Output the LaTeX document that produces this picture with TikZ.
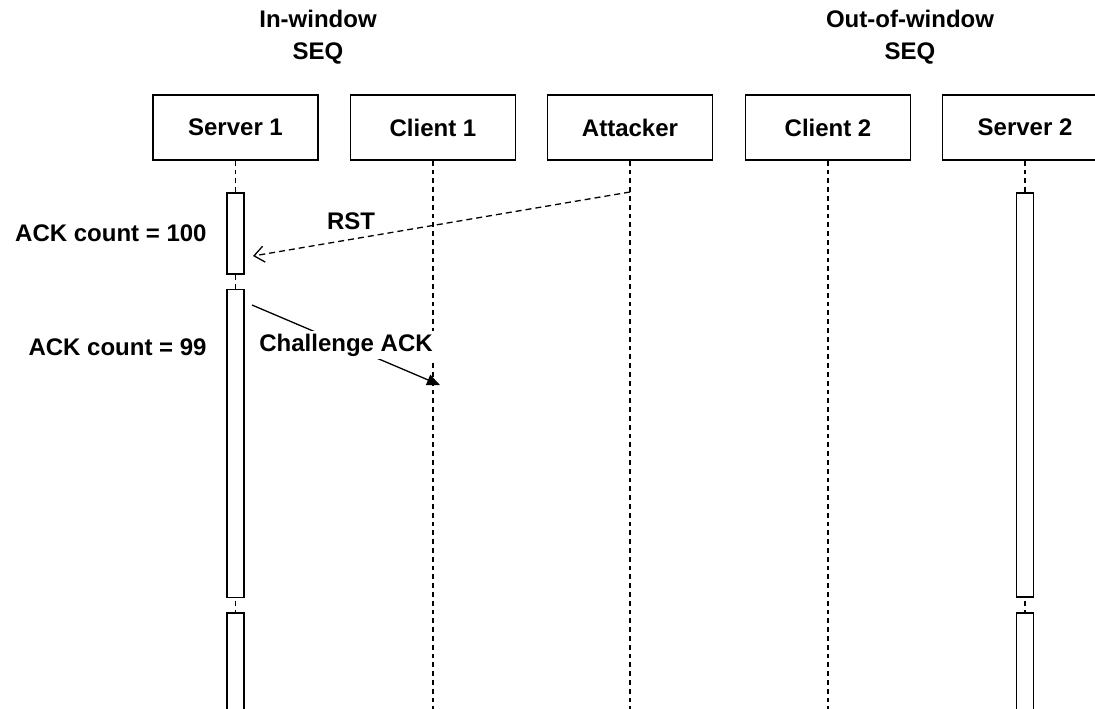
\documentclass[tikz,border=0pt]{standalone}
\usepackage{fontspec}
\setmainfont{Liberation Sans}
\usepackage{tikz}
\usetikzlibrary{positioning,arrows.meta,calc}

\tikzset{
  actor/.style={draw,line width=0.8pt,fill=white,minimum width=82.5pt,minimum height=32.5pt,inner sep=0pt},
  lifeline/.style={line width=0.7pt,dash pattern=on 2.4pt off 2pt},
  actbox/.style={draw,line width=0.8pt,fill=white,minimum width=8.5pt,inner sep=0pt,anchor=north},
  rstmsg/.style={line width=0.65pt,dash pattern=on 3pt off 2pt,-{Straight Barb[length=5pt,width=8pt]}},
  ackmsg/.style={line width=0.65pt,-{Triangle[length=6.5pt,width=5.5pt]}},
  countlabel/.style={anchor=east,inner sep=0pt}
}

\begin{document}
\begin{tikzpicture}[x=0.5pt,y=0.5pt,every node/.style={font=\fontsize{12}{16}\selectfont\bfseries}]
\clip (0,0) rectangle (1095,-708);
\fill[white] (0,0) rectangle (1095,-708);
\coordinate (bottom) at (0,-730);
\node[align=center] (inwin) at (318,-37) {In-window\\SEQ};
\node[align=center] (outwin) at (910,-37) {Out-of-window\\SEQ};
\node[actor] (server1) at (235.5,-127.5) {Server 1};
\node[actor] (client1) at (433,-127.5) {Client 1};
\node[actor] (attacker) at (630,-127.5) {Attacker};
\node[actor] (client2) at (828,-127.5) {Client 2};
\node[actor] (server2) at (1025,-127.5) {Server 2};
\draw[lifeline] (server1.south) -- (server1.south |- bottom);
\draw[lifeline] (client1.south) -- (client1.south |- bottom);
\draw[lifeline] (attacker.south) -- (attacker.south |- bottom);
\draw[lifeline] (client2.south) -- (client2.south |- bottom);
\draw[lifeline] (server2.south) -- (server2.south |- bottom);
\node[actbox,minimum height=40.5pt] (act1a) at (235.5,-192) {};
\node[actbox,minimum height=154pt] (act1b) at (235.5,-288.5) {};
\node[actbox,minimum height=70pt] (act1c) at (235.5,-612) {};
\node[actbox,minimum height=202pt] (act2a) at (1025,-192) {};
\node[actbox,minimum height=70pt] (act2b) at (1025,-612) {};
\coordinate (rstfrom) at (630,-192);
\coordinate (rsttip) at (253,-256);
\coordinate (ackfrom) at (252,-305);
\coordinate (acktip) at (440,-385);
\draw[rstmsg] (rstfrom) -- node[pos=0.74,above=1pt] (rstlabel) {RST} (rsttip);
\draw[ackmsg] (ackfrom) -- node[midway,fill=white,inner sep=1.5pt] (acklabel) {Challenge ACK} (acktip);
\node[countlabel] (cnt100) at (207,-233) {ACK count = 100};
\node[countlabel] (cnt99) at (207,-347) {ACK count = 99};
\end{tikzpicture}
\end{document}
